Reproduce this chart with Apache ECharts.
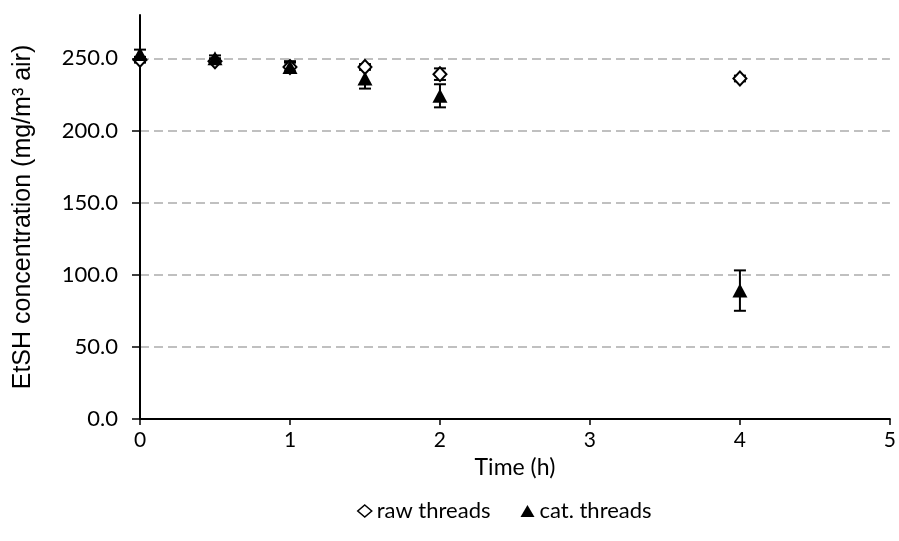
<!DOCTYPE html>
<html><head><meta charset="utf-8">
<script src="https://cdn.jsdelivr.net/npm/echarts@6/dist/echarts.min.js"></script>
<style>html,body{margin:0;padding:0;background:#fff}#c{width:899px;height:541px}</style>
</head><body><div id="c"></div>
<script>
const time = [0, 0.5, 1, 1.5, 2, 4];
const rawThreads = [249, 248, 244, 244, 239, 236];
const rawErr = [2, 2, 3, 2, 4, 2];
const catThreads = [253, 250, 244, 236, 224, 89];
const catErr = [3, 2, 4, 7, 8, 14];
const yTicks = [0, 50, 100, 150, 200, 250];
const xTicks = [0, 1, 2, 3, 4, 5];

const chart = echarts.init(document.getElementById('c'), null, {renderer: 'canvas'});

function errData(vals, errs) {
  return time.map((t, i) => [t, vals[i] - errs[i], vals[i] + errs[i]]);
}
function errSeries(name, vals, errs) {
  return {
    type: 'custom', name: name, silent: true, z: 2,
    data: errData(vals, errs),
    encode: {x: 0, y: [1, 2]},
    renderItem: function (params, api) {
      const x = api.value(0);
      const lo = api.coord([x, api.value(1)]);
      const hi = api.coord([x, api.value(2)]);
      const w = 6;
      const st = {stroke: '#000', lineWidth: 2};
      return {type: 'group', children: [
        {type: 'line', shape: {x1: lo[0], y1: lo[1], x2: hi[0], y2: hi[1]}, style: st},
        {type: 'line', shape: {x1: lo[0] - w, y1: lo[1], x2: lo[0] + w, y2: lo[1]}, style: st},
        {type: 'line', shape: {x1: hi[0] - w, y1: hi[1], x2: hi[0] + w, y2: hi[1]}, style: st}
      ]};
    }
  };
}

const option = {
  animation: false,
  textStyle: {fontFamily: 'Lato'},
  grid: {left: 140, right: 6, top: 15, bottom: 122, containLabel: false},
  legend: {
    top: 495, left: 352, itemGap: 30, itemWidth: 14, itemHeight: 12,
    textStyle: {fontFamily: 'Lato', fontSize: 22, color: '#000'},
    data: [
      {name: 'raw threads', icon: 'diamond', itemStyle: {color: '#fff', borderColor: '#000', borderWidth: 1.5}},
      {name: 'cat. threads', icon: 'triangle', itemStyle: {color: '#000'}}
    ]
  },
  xAxis: {
    type: 'value', min: 0, max: 5, interval: 1,
    name: 'Time (h)', nameLocation: 'middle', nameGap: 35,
    nameTextStyle: {fontFamily: 'Lato', fontSize: 23, color: '#000'},
    axisLine: {lineStyle: {color: '#000', width: 2}},
    axisTick: {show: true, inside: false, length: 6, lineStyle: {color: '#000', width: 1.5}},
    axisLabel: {fontFamily: 'Lato', fontSize: 21, color: '#000', margin: 11,
      customValues: xTicks, formatter: v => String(v)},
    splitLine: {show: false}
  },
  yAxis: {
    type: 'value', min: 0, max: 280, interval: 50,
    name: 'EtSH concentration (mg/m\u00b3 air)', nameLocation: 'middle', nameGap: 104,
    nameTextStyle: {fontFamily: 'Liberation Sans', fontSize: 25, color: '#000'},
    axisLine: {show: true, lineStyle: {color: '#000', width: 2}},
    axisTick: {show: true, inside: false, length: 8, customValues: yTicks, lineStyle: {color: '#000', width: 1.5}},
    axisLabel: {fontFamily: 'Lato', fontSize: 22, color: '#000', margin: 22,
      customValues: yTicks, formatter: v => v.toFixed(1)},
    splitLine: {show: true, showMinLine: false, showMaxLine: true,
      lineStyle: {color: '#c0c0c0', width: 2, type: [9, 5]}}
  },
  series: [
    errSeries('rawErr', rawThreads, rawErr),
    errSeries('catErr', catThreads, catErr),
    {
      name: 'raw threads', type: 'scatter', z: 3,
      data: time.map((t, i) => [t, rawThreads[i]]),
      symbol: 'diamond', symbolSize: [13, 14],
      itemStyle: {color: '#fff', borderColor: '#000', borderWidth: 2, opacity: 1}
    },
    {
      name: 'cat. threads', type: 'scatter', z: 4,
      data: time.map((t, i) => [t, catThreads[i]]),
      symbol: 'triangle', symbolSize: [15, 14],
      itemStyle: {color: '#000', opacity: 1}
    }
  ]
};
chart.setOption(option);
</script></body></html>
